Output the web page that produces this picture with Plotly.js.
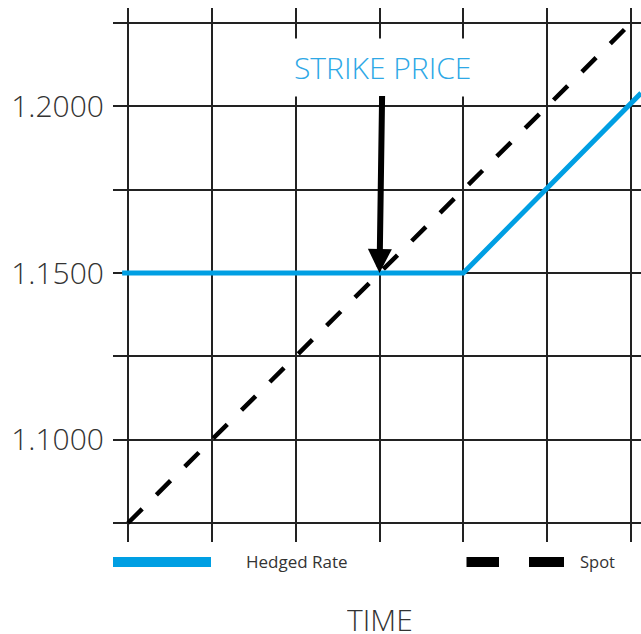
<!DOCTYPE html>
<html>
<head>
<meta charset="utf-8">
<script src="https://cdn.plot.ly/plotly-3.0.1.min.js"></script>
<style>html,body{margin:0;padding:0;background:#fff;}#chart{width:641px;height:634px;}</style>
</head>
<body>
<div id="chart"></div>
<script>
// Data
const timeTicks = [0, 1, 2, 3, 4, 5, 6];
const rateTicks = [1.075, 1.1, 1.125, 1.15, 1.175, 1.2, 1.225];
const rateTickText = ['', '1.1000', '', '1.1500', '', '1.2000', ''];
const spotTime = [0, 6];
const spotRate = [1.075, 1.225];
const hedgedTime = [-0.07, 4, 6.12];
const hedgedRate = [1.15, 1.15, 1.204];
const strikeTime = 3;
const strikeRate = 1.15;

const BLUE = '#009FE3';
const GRID = '#222222';

const traces = [
  {
    x: spotTime, y: spotRate, mode: 'lines', name: 'Spot',
    line: {color: '#000000', width: 4.5, dash: '20px,20px'},
    hoverinfo: 'skip', showlegend: false
  },
  {
    x: hedgedTime, y: hedgedRate, mode: 'lines', name: 'Hedged Rate',
    line: {color: BLUE, width: 5},
    hoverinfo: 'skip', showlegend: false
  }
];

// helpers for paper coords of legend drawing
const W = 528, H = 534, L = 113, T = 8;
const px = v => (v - L) / W;
const py = v => (T + H - v) / H;

const layout = {
  width: 641, height: 634,
  margin: {l: 113, r: 0, t: 8, b: 92},
  paper_bgcolor: '#ffffff', plot_bgcolor: '#ffffff',
  showlegend: false,
  font: {family: '"Open Sans", sans-serif', color: '#333333'},
  xaxis: {
    range: [-0.179, 6.119], tickvals: timeTicks, showticklabels: false,
    showgrid: true, gridcolor: GRID, gridwidth: 2, zeroline: false, showline: false,
    ticks: '', fixedrange: true
  },
  yaxis: {
    range: [1.0693, 1.2295], tickvals: rateTicks, ticktext: rateTickText,
    showgrid: true, gridcolor: GRID, gridwidth: 2, zeroline: false, showline: false,
    ticks: '', ticklabelstandoff: 8, fixedrange: true,
    tickfont: {size: 30, color: '#333333', weight: 350}
  },
  shapes: [
    {type: 'line', xref: 'paper', yref: 'paper', x0: px(113), x1: px(211), y0: py(562), y1: py(562),
     line: {color: BLUE, width: 10}},
    {type: 'line', xref: 'paper', yref: 'paper', x0: px(466.5), x1: px(499), y0: py(562), y1: py(562),
     line: {color: '#000000', width: 10}},
    {type: 'line', xref: 'paper', yref: 'paper', x0: px(529), x1: px(564), y0: py(562), y1: py(562),
     line: {color: '#000000', width: 10}}
  ],
  annotations: [
    {
      x: strikeTime, y: strikeRate, xref: 'x', yref: 'y',
      text: 'STRIKE PRICE', showarrow: true, ax: 3, ay: -206,
      arrowhead: 2, arrowsize: 0.8, arrowwidth: 6, arrowcolor: '#000000',
      bgcolor: '#ffffff', borderpad: 8,
      font: {size: 30, color: '#2EA8E6', weight: 300}
    },
    {
      x: 3, y: py(619), xref: 'x', yref: 'paper', xanchor: 'center', yanchor: 'middle',
      height: 28, borderpad: 0,
      text: 'TIME', showarrow: false, font: {size: 30, color: '#333333', weight: 300}
    },
    {
      x: px(244), y: py(561), xref: 'paper', yref: 'paper', xanchor: 'left', yanchor: 'middle',
      text: 'Hedged Rate', showarrow: false, font: {size: 17, color: '#333333'}
    },
    {
      x: px(578), y: py(561), xref: 'paper', yref: 'paper', xanchor: 'left', yanchor: 'middle',
      text: 'Spot', showarrow: false, font: {size: 16.5, color: '#333333'}
    }
  ]
};

Plotly.newPlot('chart', traces, layout, {displayModeBar: false, staticPlot: true});
</script>
</body>
</html>
